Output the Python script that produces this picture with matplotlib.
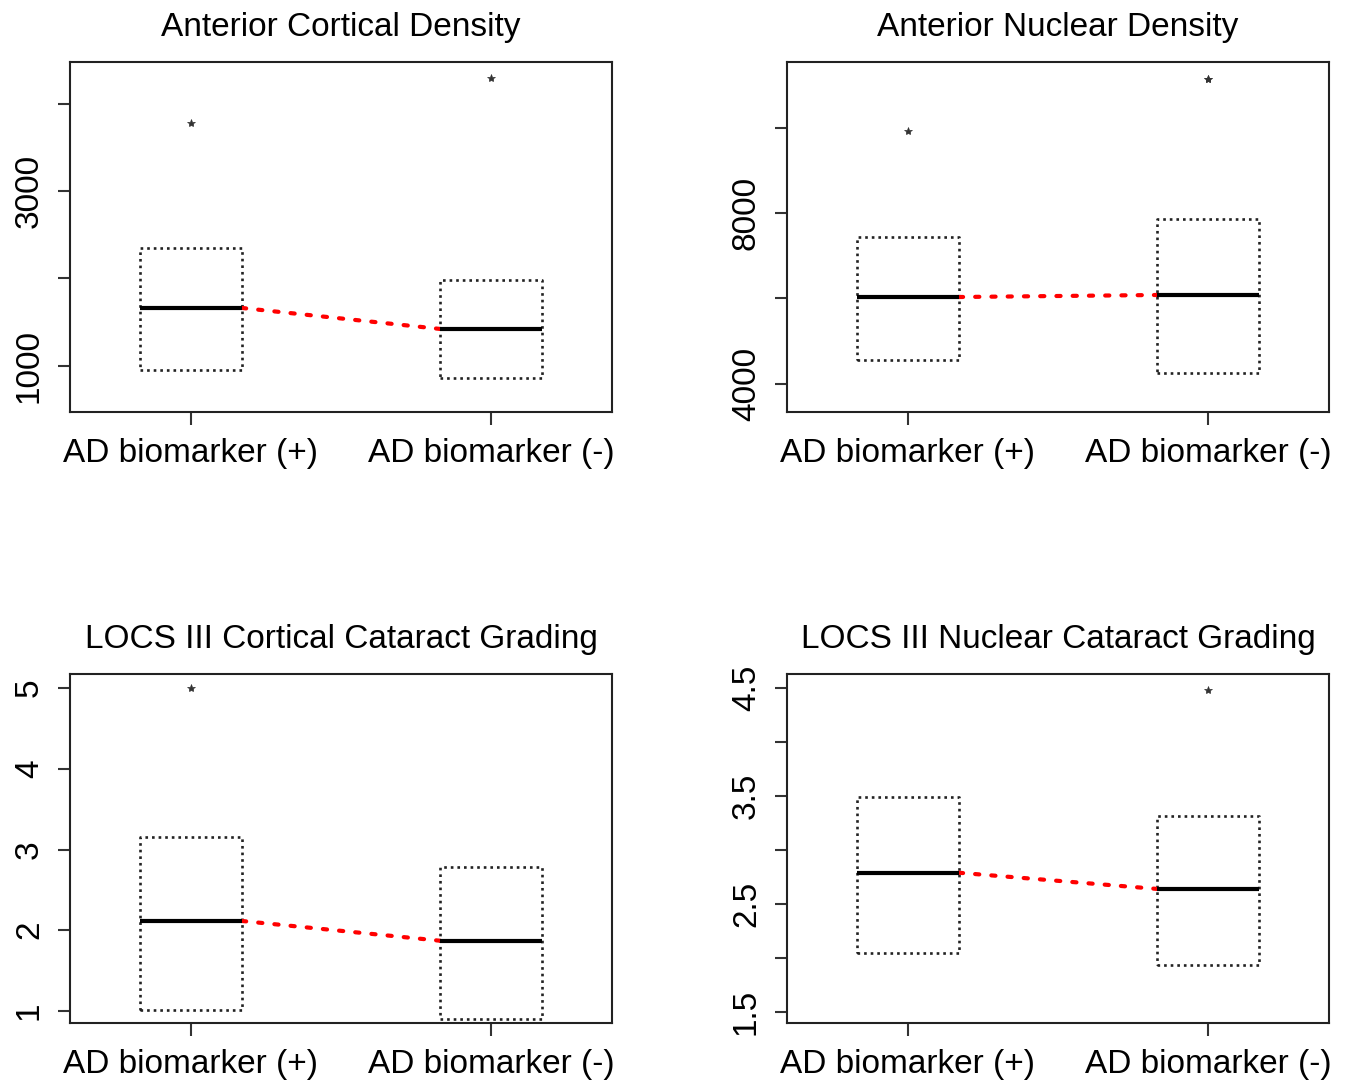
import matplotlib.pyplot as plt

plt.rcParams['font.family'] = ['Liberation Sans', 'DejaVu Sans']

groups = ['AD biomarker (+)', 'AD biomarker (-)']
titles = ['Anterior Cortical Density', 'Anterior Nuclear Density',
          'LOCS III Cortical Cataract Grading', 'LOCS III Nuclear Cataract Grading']

# lower quartile, median, upper quartile, outliers for each group
q1 = [[954, 863], [4561, 4257], [1.01, 0.90], [2.05, 1.935]]
med = [[1663, 1423], [6035, 6082], [2.115, 1.87], [2.79, 2.64]]
q3 = [[2349, 1983], [7439, 7860], [3.155, 2.78], [3.49, 3.32]]
outliers = [[[3777], [4291]], [[9918], [11135, 11135]], [[5.0], []], [[], [4.48]]]

yticks = [[1000, 2000, 3000, 4000], [4000, 6000, 8000, 10000],
          [1, 2, 3, 4, 5], [1.5, 2.0, 2.5, 3.0, 3.5, 4.0, 4.5]]
ylabels = [['1000', '', '3000', ''], ['4000', '', '8000', ''],
           ['1', '2', '3', '4', '5'], ['1.5', '', '2.5', '', '3.5', '', '4.5']]
ylims = [(474, 4474), (3345, 11532), (0.851, 5.173), (1.398, 4.63)]

fig = plt.figure(figsize=(13.51, 10.89), dpi=100)
rects = [[0.0518, 0.6217, 0.4014, 0.3213], [0.5825, 0.6217, 0.4012, 0.3213],
         [0.0518, 0.0606, 0.4014, 0.3204], [0.5825, 0.0606, 0.4012, 0.3204]]
half = 0.17

for k in range(4):
    ax = fig.add_axes(rects[k])
    stats = []
    for g in range(2):
        stats.append(dict(med=med[k][g], q1=q1[k][g], q3=q3[k][g],
                          whislo=q1[k][g], whishi=q3[k][g], fliers=outliers[k][g]))
    ax.bxp(stats, positions=[1, 2], widths=2 * half, showcaps=False,
           boxprops=dict(color='#222222', linestyle=(0, (1, 1.5)), linewidth=1.9),
           whiskerprops=dict(linewidth=0),
           medianprops=dict(color='black', linewidth=3, solid_capstyle='butt'),
           flierprops=dict(marker='*', markersize=6, markerfacecolor='#333333',
                           markeredgecolor='#333333', markeredgewidth=0.5))
    ax.plot([1 + half, 2 - half], med[k], color='red', linewidth=3,
            linestyle=(0, (1, 2.9)), dash_capstyle='round')
    ax.set_xlim(0.597, 2.403)
    ax.set_ylim(*ylims[k])
    ax.set_xticks([1, 2])
    ax.set_xticklabels(groups)
    ax.set_yticks(yticks[k])
    ax.set_yticklabels(ylabels[k], rotation=90, va='center')
    ax.tick_params(axis='both', length=9, width=1.5, labelsize=24, color='#333333')
    ax.tick_params(axis='x', pad=10)
    ax.tick_params(axis='y', pad=9)
    for s in ax.spines.values():
        s.set_linewidth(1.5)
        s.set_color('#222222')
    ax.set_title(titles[k], fontsize=24, pad=19)

fig.savefig('out.png', dpi=100)
